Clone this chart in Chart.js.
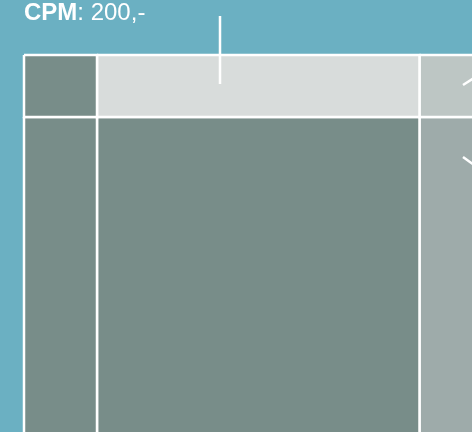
<!DOCTYPE html>
<html>
<head>
<meta charset="utf-8">
<script src="https://cdn.jsdelivr.net/npm/chart.js@4"></script>
<style>
  html, body { margin: 0; padding: 0; background: #6bb0c2; }
  #wrap { width: 472px; height: 432px; }
</style>
</head>
<body>
<div id="wrap"><canvas id="layoutChart"></canvas></div>
<script>
// layout mock-up: columns and rows of the ad page (px of the mock)
const originX = 24;
const originY = 55;
const columns = ['Navigation', 'Content', 'Skyscraper'];
const colWidths = [73, 322.5, 70];
const rows = ['Leaderboard', 'Body'];
const rowHeights = [62, 340];
const cellColors = [
    ['#788d89', '#d8dcdb', '#bdc6c4'],
    ['#788d89', '#788d89', '#9eabaa']
];
// callout pointers
const pointers = [
    [[220, 16], [220, 84]],
    [[463, 85], [474, 78]],
    [[463, 157], [474, 165]]
];
const priceLabel = 'CPM';
const priceValue = ': 200,-';

const colEdges = [originX];
colWidths.forEach(w => colEdges.push(colEdges[colEdges.length - 1] + w));
const rowEdges = [originY];
rowHeights.forEach(h => rowEdges.push(rowEdges[rowEdges.length - 1] + h));

const datasets = [];
rows.forEach((r, ri) => {
    columns.forEach((c, ci) => {
        const x0 = colEdges[ci], x1 = colEdges[ci + 1];
        const y0 = rowEdges[ri], y1 = rowEdges[ri + 1];
        datasets.push({
            label: r + ' / ' + c,
            data: [{x: x0, y: y0}, {x: x1, y: y0}, {x: x1, y: y1}, {x: x0, y: y1}, {x: x0, y: y0}],
            showLine: true,
            fill: 'shape',
            backgroundColor: cellColors[ri][ci],
            borderColor: '#ffffff',
            borderWidth: 2.5,
            pointRadius: 0,
            tension: 0,
            clip: false,
            order: 2
        });
    });
});
pointers.forEach((p, i) => {
    datasets.push({
        label: 'pointer ' + i,
        data: p.map(pt => ({x: pt[0], y: pt[1]})),
        showLine: true,
        fill: false,
        borderColor: '#ffffff',
        borderWidth: 2.5,
        pointRadius: 0,
        clip: false,
        order: 1
    });
});

const priceText = {
    id: 'priceText',
    afterDraw(chart) {
        const ctx = chart.ctx;
        ctx.save();
        ctx.fillStyle = '#ffffff';
        ctx.textBaseline = 'alphabetic';
        ctx.font = 'bold 24px "Liberation Sans", Arial, sans-serif';
        ctx.fillText(priceLabel, 24, 20);
        const w = ctx.measureText(priceLabel).width;
        ctx.font = '24px "Liberation Sans", Arial, sans-serif';
        ctx.fillText(priceValue, 24 + w, 20);
        ctx.restore();
    }
};

new Chart(document.getElementById('layoutChart'), {
    type: 'scatter',
    data: { datasets: datasets },
    options: {
        responsive: true,
        maintainAspectRatio: false,
        animation: false,
        layout: { padding: 0 },
        plugins: { legend: { display: false }, tooltip: { enabled: false } },
        scales: {
            x: { type: 'linear', min: 0, max: 472, display: false },
            y: { type: 'linear', min: 0, max: 432, reverse: true, display: false }
        }
    },
    plugins: [priceText]
});
</script>
</body>
</html>
